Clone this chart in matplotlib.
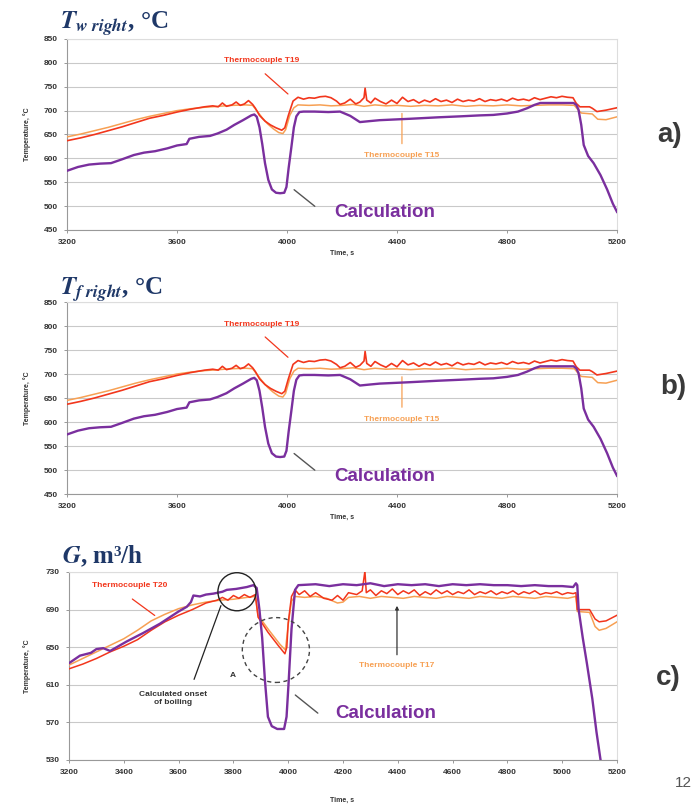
import matplotlib
matplotlib.use('Agg')

import matplotlib.pyplot as plt
import numpy as np
from matplotlib.patches import Ellipse

plt.rcParams['mathtext.fontset'] = 'stix'
plt.rcParams['font.family'] = ['Liberation Sans', 'DejaVu Sans']

# readings: (time s, temperature C)
# panels a) and b) show the same curves
calc_ab = [(3200, 574), (3240, 582), (3280, 587), (3320, 589), (3360, 590), (3400, 598),
           (3443, 607), (3480, 612), (3520, 615), (3565, 621), (3600, 627), (3635, 630),
           (3645, 641), (3680, 645), (3720, 647), (3747, 652), (3780, 660), (3808, 670),
           (3840, 680), (3870, 690), (3881, 692), (3890, 687), (3900, 665), (3910, 630),
           (3920, 590), (3932, 555), (3945, 535), (3960, 528), (3975, 527), (3990, 528),
           (3998, 540), (4006, 580), (4016, 624), (4025, 665), (4034, 688), (4045, 697),
           (4060, 698), (4100, 698), (4150, 697), (4193, 698), (4230, 689), (4265, 676),
           (4300, 678), (4337, 680), (4450, 683), (4550, 686), (4629, 688), (4700, 690),
           (4750, 691), (4800, 694), (4840, 698), (4873, 705), (4900, 712), (4921, 716),
           (4980, 716), (5042, 716), (5052, 712), (5060, 702), (5070, 670), (5079, 628),
           (5095, 605), (5115, 590), (5140, 565), (5164, 535), (5185, 505), (5200, 488)]

t19_ab = [(3200, 637), (3250, 643), (3300, 650), (3350, 658), (3400, 666), (3450, 675),
          (3500, 684), (3550, 690), (3600, 697), (3650, 703), (3700, 708), (3730, 710),
          (3750, 708), (3765, 716), (3780, 709), (3800, 712), (3815, 718), (3830, 711),
          (3845, 714), (3860, 721), (3875, 713), (3885, 705), (3900, 690), (3920, 678),
          (3940, 670), (3960, 664), (3981, 659), (3992, 664), (4005, 690), (4022, 720),
          (4040, 728), (4060, 724), (4080, 727), (4100, 726), (4120, 729), (4140, 730),
          (4160, 727), (4180, 720), (4193, 713), (4210, 716), (4230, 724), (4250, 714),
          (4265, 718), (4280, 727), (4284, 747), (4290, 722), (4305, 716), (4320, 726),
          (4340, 719), (4360, 714), (4380, 722), (4400, 715), (4420, 728), (4440, 719),
          (4460, 723), (4480, 716), (4500, 722), (4520, 718), (4540, 725), (4560, 719),
          (4580, 722), (4600, 717), (4620, 724), (4640, 719), (4660, 722), (4680, 720),
          (4700, 725), (4720, 719), (4740, 723), (4760, 721), (4780, 724), (4800, 720),
          (4820, 726), (4840, 722), (4860, 724), (4880, 721), (4900, 727), (4920, 723),
          (4940, 726), (4960, 729), (4980, 727), (5000, 730), (5020, 728), (5040, 727),
          (5052, 715), (5065, 708), (5100, 708), (5110, 705), (5127, 698), (5160, 701),
          (5200, 706)]

t15_ab = [(3200, 645), (3250, 651), (3300, 658), (3350, 665), (3400, 673), (3450, 681),
          (3500, 688), (3550, 694), (3600, 700), (3650, 704), (3700, 707), (3750, 709),
          (3800, 711), (3850, 712), (3875, 711), (3890, 700), (3910, 685), (3930, 672),
          (3950, 662), (3970, 654), (3985, 652), (3995, 660), (4010, 690), (4025, 706),
          (4040, 712), (4080, 711), (4120, 712), (4160, 710), (4200, 711), (4240, 713),
          (4280, 709), (4320, 712), (4360, 710), (4400, 711), (4450, 709), (4500, 711),
          (4550, 710), (4600, 712), (4650, 709), (4700, 711), (4750, 710), (4800, 712),
          (4850, 710), (4900, 711), (4950, 712), (5000, 712), (5045, 711), (5058, 702),
          (5070, 695), (5110, 693), (5130, 682), (5160, 681), (5200, 687)]

calc_c = [(3200, 633), (3240, 641), (3280, 644), (3300, 648), (3325, 649), (3350, 646),
          (3380, 651), (3410, 656), (3470, 665), (3532, 675), (3600, 688), (3630, 693),
          (3645, 698), (3654, 705), (3678, 704), (3700, 706), (3727, 707), (3760, 709),
          (3776, 711), (3810, 712), (3849, 714), (3873, 716), (3885, 713), (3895, 690),
          (3905, 660), (3915, 615), (3926, 576), (3940, 566), (3960, 563), (3985, 563),
          (3994, 576), (4002, 615), (4012, 669), (4025, 711), (4037, 716), (4100, 717),
          (4150, 715), (4200, 717), (4250, 716), (4300, 718), (4350, 715), (4400, 717),
          (4450, 716), (4500, 717), (4550, 715), (4600, 717), (4650, 716), (4700, 717),
          (4750, 716), (4800, 716), (4850, 715), (4900, 716), (4950, 715), (5000, 715),
          (5040, 714), (5050, 718), (5055, 716), (5060, 690), (5075, 660), (5090, 633),
          (5110, 595), (5125, 560), (5140, 530), (5150, 512)]

t20_c = [(3200, 627), (3250, 632), (3300, 638), (3350, 645), (3400, 651), (3450, 658),
         (3500, 668), (3550, 677), (3600, 684), (3650, 690), (3700, 697), (3740, 700),
         (3760, 703), (3780, 700), (3800, 705), (3820, 702), (3840, 706), (3860, 703),
         (3880, 706), (3890, 682), (3926, 666), (3963, 652), (3988, 643), (3995, 650),
         (4000, 676), (4012, 704), (4025, 711), (4040, 706), (4060, 710), (4080, 704),
         (4100, 708), (4130, 702), (4160, 700), (4180, 705), (4200, 700), (4220, 708),
         (4250, 706), (4270, 710), (4280, 731), (4285, 708), (4300, 711), (4320, 705),
         (4340, 710), (4360, 707), (4380, 712), (4400, 706), (4420, 710), (4440, 707),
         (4460, 711), (4480, 705), (4500, 709), (4520, 706), (4540, 711), (4560, 707),
         (4580, 710), (4600, 706), (4620, 709), (4640, 707), (4660, 711), (4680, 706),
         (4700, 709), (4720, 707), (4740, 710), (4760, 706), (4780, 709), (4800, 707),
         (4820, 710), (4840, 706), (4860, 709), (4880, 707), (4900, 710), (4920, 706),
         (4940, 708), (4960, 707), (4980, 709), (5000, 706), (5020, 708), (5040, 707),
         (5050, 708), (5055, 690), (5100, 690), (5120, 680), (5135, 677), (5160, 678),
         (5200, 684)]

t17_c = [(3200, 631), (3250, 638), (3300, 645), (3350, 652), (3400, 659), (3450, 668),
         (3500, 678), (3550, 685), (3600, 691), (3650, 695), (3700, 698), (3750, 700),
         (3800, 701), (3850, 703), (3880, 704), (3890, 684), (3930, 668), (3970, 653),
         (3990, 647), (4000, 674), (4012, 699), (4025, 704), (4060, 703), (4100, 704),
         (4140, 702), (4180, 697), (4200, 698), (4220, 703), (4260, 704), (4300, 702),
         (4340, 704), (4380, 703), (4420, 702), (4460, 704), (4500, 703), (4540, 702),
         (4580, 704), (4620, 703), (4660, 702), (4700, 704), (4740, 703), (4780, 702),
         (4820, 704), (4860, 703), (4900, 702), (4940, 704), (4980, 703), (5020, 702),
         (5050, 704), (5055, 688), (5100, 687), (5120, 672), (5135, 668), (5160, 670),
         (5200, 677)]

xticks_ab = [3200, 3600, 4000, 4400, 4800, 5200]
yticks_ab = [450, 500, 550, 600, 650, 700, 750, 800, 850]
xticks_c = [3200, 3400, 3600, 3800, 4000, 4200, 4400, 4600, 4800, 5000, 5200]
yticks_c = [530, 570, 610, 650, 690, 730]

PURPLE = '#7a2f9e'
RED = '#f2361c'
ORANGE = '#f7a053'
NAVY = '#1f3868'

W, H = 696, 805
fig = plt.figure(figsize=(W / 100, H / 100), dpi=100)


def px(x0, y0, x1, y1):
    # pixel box (top-left origin) -> axes rect
    return [x0 / W, 1 - y1 / H, (x1 - x0) / W, (y1 - y0) / H]


def style(ax, xt, yt):
    ax.set_xlim(xt[0], xt[-1])
    ax.set_ylim(yt[0], yt[-1])
    ax.set_xticks(xt)
    ax.set_yticks(yt)
    ax.set_xticklabels([str(v) for v in xt], fontsize=6, fontweight='bold', color='#333333')
    ax.set_yticklabels([str(v) for v in yt], fontsize=6, fontweight='bold', color='#333333')
    ax.grid(axis='y', color='#c9c9c9', lw=0.8)
    ax.set_axisbelow(True)
    for s in ['top', 'right']:
        ax.spines[s].set_color('#dddddd')
    for s in ['left', 'bottom']:
        ax.spines[s].set_color('#999999')
    ax.tick_params(length=2.5, width=0.7, color='#999999', pad=4)


def draw(ax, data, color, lw, z):
    arr = np.array(data)
    ax.plot(arr[:, 0], arr[:, 1], color=color, lw=lw, zorder=z)


def ab_panel(rect, title, ty):
    ax = fig.add_axes(rect)
    style(ax, xticks_ab, yticks_ab)
    draw(ax, t15_ab, ORANGE, 1.1, 3)
    draw(ax, t19_ab, RED, 1.2, 4)
    draw(ax, calc_ab, PURPLE, 1.7, 5)
    ax.text(3909, 804, 'Thermocouple T19', color=RED, fontsize=6, fontweight='bold',
            ha='center', va='center')
    ax.annotate('', xy=(4011, 731), xytext=(3913, 781),
                arrowprops=dict(arrowstyle='-', color=RED, lw=0.9))
    ax.text(4418, 605, 'Thermocouple T15', color=ORANGE, fontsize=6, fontweight='bold',
            ha='center', va='center')
    ax.annotate('', xy=(4418, 700), xytext=(4418, 625),
                arrowprops=dict(arrowstyle='-', color=ORANGE, lw=0.9))
    ax.text(4355, 486, 'Calculation', color=PURPLE, fontsize=13.5, fontweight='bold',
            ha='center', va='center')
    ax.annotate('', xy=(4018, 538), xytext=(4109, 496),
                arrowprops=dict(arrowstyle='-', color='#555555', lw=1.0))
    fig.text(60 / W, 1 - ty / H, title, fontsize=18, color=NAVY,
             family=['Liberation Serif', 'DejaVu Serif'], fontweight='bold', va='center')
    pos = ax.get_position()
    fig.text(27 / W, pos.y0 + pos.height / 2, 'Temperature, \u00b0C', rotation=90,
             fontsize=5, fontweight='bold', ha='center', va='center', color='#333333')
    return ax


ax_a = ab_panel(px(67, 39, 617, 230), r'$\mathbfit{T}_{\mathbfit{w\ right}}$, ' + '\u00b0C', 24)
fig.text(342 / W, 1 - 253 / H, 'Time, s', fontsize=5, fontweight='bold', ha='center',
         va='center', color='#333333')
ax_b = ab_panel(px(67, 302, 617, 494), r'$\mathbfit{T}_{\mathbfit{f\ right}}$, ' + '\u00b0C', 290)
fig.text(342 / W, 1 - 517 / H, 'Time, s', fontsize=5, fontweight='bold', ha='center',
         va='center', color='#333333')

# panel c
ax_c = fig.add_axes(px(69, 572, 617, 760))
style(ax_c, xticks_c, yticks_c)
draw(ax_c, t17_c, ORANGE, 1.1, 3)
draw(ax_c, t20_c, RED, 1.1, 4)
draw(ax_c, calc_c, PURPLE, 1.7, 5)
ax_c.text(3423, 716, 'Thermocouple T20', color=RED, fontsize=6, fontweight='bold',
          ha='center', va='center')
ax_c.annotate('', xy=(3521, 682), xytext=(3423, 703),
              arrowprops=dict(arrowstyle='-', color=RED, lw=0.9))
ax_c.add_patch(Ellipse((3813, 709), 139, 40.5, fill=False, ec='#222222', lw=1.0, zorder=6))
ax_c.add_patch(Ellipse((3955, 647), 245, 69, fill=False, ec='#444444', lw=1.0,
                       ls=(0, (3, 2.5)), zorder=6))
ax_c.text(3799, 620, 'A', fontsize=6, fontweight='bold', ha='center', va='center',
          color='#333333')
ax_c.text(3580, 595, 'Calculated onset\nof boiling', fontsize=6, fontweight='bold',
          ha='center', va='center', color='#333333', linespacing=1.2)
ax_c.annotate('', xy=(3758, 697), xytext=(3653, 613),
              arrowprops=dict(arrowstyle='-', color='#222222', lw=0.9))
ax_c.text(4397, 631, 'Thermocouple T17', color=ORANGE, fontsize=6, fontweight='bold',
          ha='center', va='center')
ax_c.annotate('', xy=(4397, 697), xytext=(4397, 639),
              arrowprops=dict(arrowstyle='-|>', color='#333333', lw=0.9, mutation_scale=5))
ax_c.text(4357, 580, 'Calculation', color=PURPLE, fontsize=13.5, fontweight='bold',
          ha='center', va='center')
ax_c.annotate('', xy=(4018, 601), xytext=(4116, 578),
              arrowprops=dict(arrowstyle='-', color='#555555', lw=1.0))
fig.text(62 / W, 1 - 556 / H, r'$\mathbfit{G}$, m' + '\u00b3/h',
         fontsize=18, color=NAVY, family=['Liberation Serif', 'DejaVu Serif'],
         fontweight='bold', va='center')
pos = ax_c.get_position()
fig.text(27 / W, pos.y0 + pos.height / 2, 'Temperature, \u00b0C', rotation=90,
         fontsize=5, fontweight='bold', ha='center', va='center', color='#333333')
fig.text(342 / W, 1 - 800 / H, 'Time, s', fontsize=5, fontweight='bold', ha='center',
         va='center', color='#333333')

# panel letters and page number
for lab, x, y in [('a)', 670, 135), ('b)', 673, 387), ('c)', 668, 678)]:
    fig.text(x / W, 1 - y / H, lab, fontsize=20, fontweight='bold', color='#3a3a3a',
             ha='center', va='center')
fig.text(683 / W, 1 - 783 / H, '12', fontsize=11, color='#555555', ha='center', va='center')

fig.savefig('out.png', dpi=100)
